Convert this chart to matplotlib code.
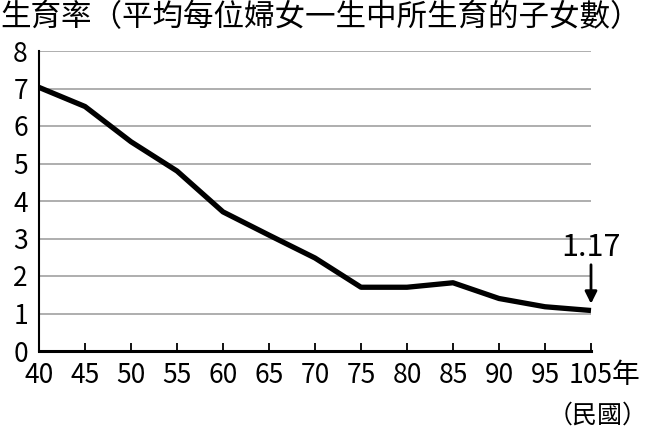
import matplotlib
matplotlib.use("Agg")
import matplotlib.pyplot as plt

plt.rcParams['font.family'] = ['Noto Sans CJK TC', 'DejaVu Sans']

years = ["40", "45", "50", "55", "60", "65", "70", "75", "80", "85", "90", "95", "105"]
rates = [7.03, 6.52, 5.58, 4.80, 3.71, 3.09, 2.48, 1.70, 1.70, 1.82, 1.40, 1.18, 1.08]
y_ticks = [0, 1, 2, 3, 4, 5, 6, 7, 8]
title = "生育率（平均每位婦女一生中所生育的子女數）"
last_label = "1.17"

fig = plt.figure(figsize=(6.48, 4.29), dpi=100)
ax = fig.add_axes([39/648, 1-351/429, (591-39)/648, 300/429])

x = list(range(len(years)))
ax.set_xlim(0, len(years) - 1)
ax.set_ylim(0, 8)

for v in y_ticks[1:]:
    ax.axhline(v, color='#a8a8a8', lw=1.3, zorder=1)

ax.plot(x, rates, color='black', lw=3.8, solid_joinstyle='round', solid_capstyle='butt',
        zorder=3, clip_on=False)

for s in ['top', 'right']:
    ax.spines[s].set_visible(False)
ax.spines['left'].set_linewidth(1.5)
ax.spines['bottom'].set_linewidth(2.2)

ax.set_xticks(x)
ax.set_xticklabels(years, fontsize=19)
ax.set_yticks(y_ticks)
ax.set_yticklabels([str(v) for v in y_ticks], fontsize=19)
ax.tick_params(axis='x', direction='in', length=6, width=1.3, pad=8)
ax.tick_params(axis='y', length=0, pad=8)
ax.xaxis.get_major_ticks()[0].tick1line.set_visible(False)

ax.annotate("年", xy=(len(years) - 1, 0), xycoords='data', xytext=(15, -17.5),
            textcoords='offset points', fontsize=20, ha='left', va='center',
            annotation_clip=False)
fig.text(0.999, 1 - 416/429, "（民國）", fontsize=18, ha='right', va='center')

ax.text(len(years) - 1, 2.77, last_label, fontsize=22, ha='center', va='center')
ax.annotate('', xy=(len(years) - 1, 1.26), xytext=(len(years) - 1, 2.3),
            arrowprops=dict(arrowstyle='-|>', lw=2, color='black', mutation_scale=18,
                            shrinkA=0, shrinkB=0), annotation_clip=False)

fig.text(0.0, 0.995, title, fontsize=22, ha='left', va='top')

fig.savefig("out.png", dpi=100)
